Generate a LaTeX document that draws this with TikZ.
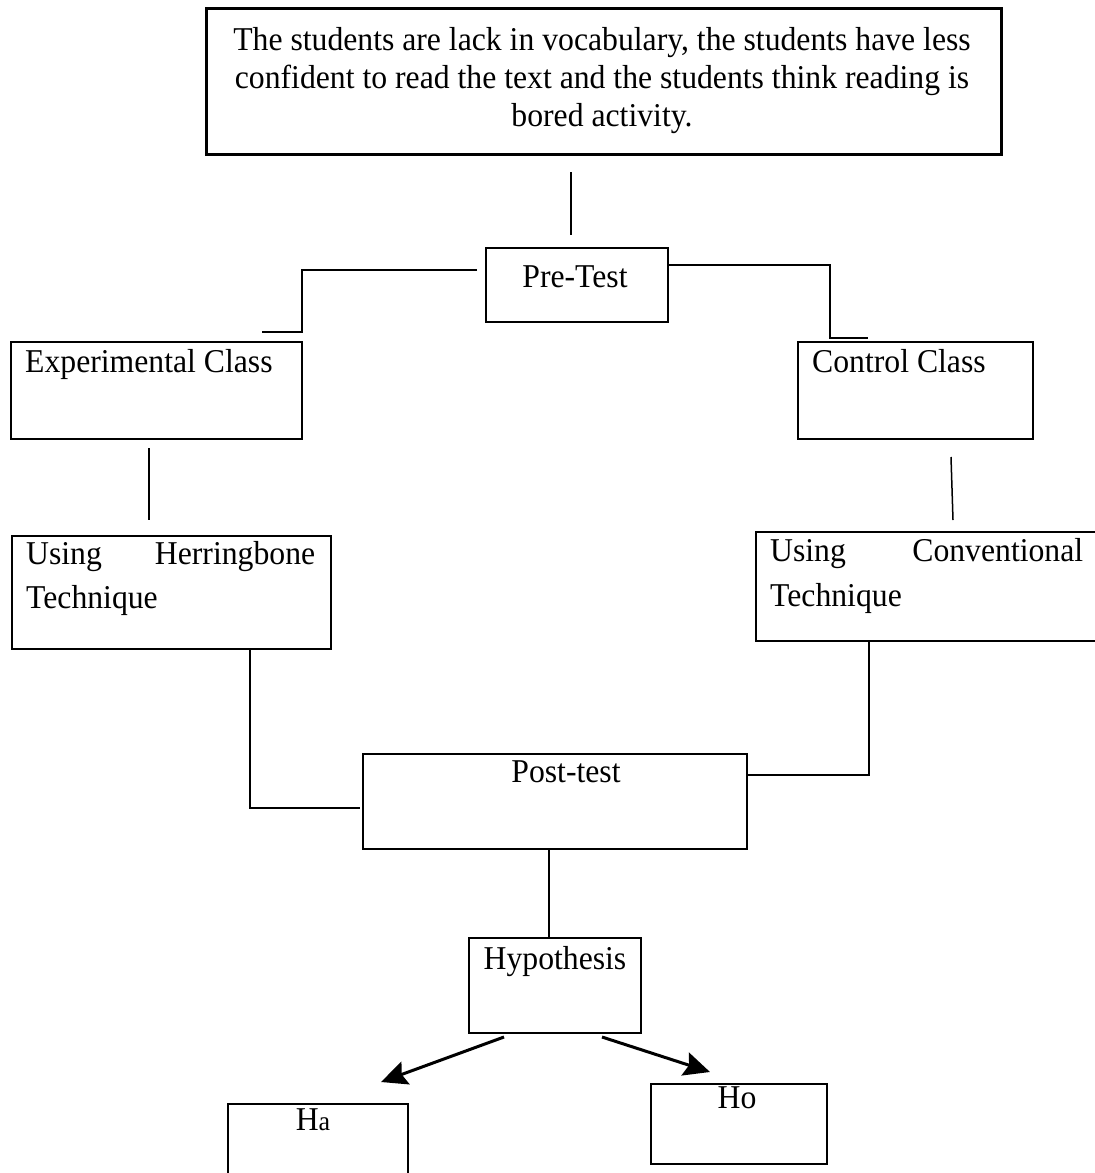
\documentclass[tikz,border=0pt]{standalone}
\usepackage{fontspec}
\setmainfont{Liberation Serif}
\usetikzlibrary{arrows.meta}
\newcommand{\tallt}[1]{\scalebox{1}[1.05]{#1}}
\begin{document}
\begin{tikzpicture}[x=1pt,y=1pt,
  box/.style={draw, line width=2.2pt, inner sep=0pt, anchor=north west},
  txt/.style={inner sep=0pt, font=\fontsize{31.7}{37.5}\selectfont},
  conn/.style={line width=1.5pt},
  arr/.style={line width=3pt, -{Stealth[length=26pt,width=24pt,inset=4pt]}}]
\clip (0,0) rectangle (1095,-1173);
\fill[white] (0,0) rectangle (1095,-1173);
% boxes
\node[box, line width=3pt, minimum width=795pt, minimum height=146pt] (prob) at (205,-7) {};
\node[box, minimum width=182pt, minimum height=74pt] (pre) at (485,-247) {};
\node[box, minimum width=291pt, minimum height=97pt] (exp) at (10,-341) {};
\node[box, minimum width=235pt, minimum height=97pt] (ctl) at (797,-341) {};
\node[box, minimum width=319pt, minimum height=113pt] (her) at (11,-535) {};
\node[box, minimum width=360pt, minimum height=109pt] (con) at (755,-531) {};
\node[box, minimum width=384pt, minimum height=95pt] (post) at (362,-753) {};
\node[box, minimum width=172pt, minimum height=95pt] (hyp) at (468,-937) {};
\node[box, minimum width=180pt, minimum height=90pt] (ha) at (227,-1103) {};
\node[box, minimum width=176pt, minimum height=80pt] (ho) at (650,-1083) {};
% texts
\node[txt, anchor=base] (t1) at (602,-50) {\tallt{The students are lack in vocabulary, the students have less}};
\node[txt, anchor=base] (t2) at (602,-88) {\tallt{confident to read the text and the students think reading is}};
\node[txt, anchor=base] (t3) at (602,-126) {\tallt{bored activity.}};
\node[txt, anchor=base] (pret) at (575,-287) {\tallt{Pre-Test}};
\node[txt, anchor=base west] (expt) at (25,-372) {\tallt{Experimental Class}};
\node[txt, anchor=base west] (ctlt) at (812,-372) {\tallt{Control Class}};
\node[txt, anchor=base west] (her1) at (26,-564) {\tallt{\hbox to 289pt{Using\hfill Herringbone}}};
\node[txt, anchor=base west] (her2) at (26,-608) {\tallt{Technique}};
\node[txt, anchor=base west] (con1) at (770,-561) {\tallt{\hbox to 313pt{Using\hfill Conventional}}};
\node[txt, anchor=base west] (con2) at (770,-606) {\tallt{Technique}};
\node[txt, anchor=base] (postt) at (566,-782) {\tallt{Post-test}};
\node[txt, anchor=base] (hypt) at (555,-969) {\tallt{Hypothesis}};
\node[txt, anchor=base] (hat) at (313,-1130) {\tallt{H{\fontsize{26}{30}\selectfont a}}};
\node[txt, anchor=base] (hot) at (737,-1108) {\tallt{Ho}};
% connector end points
\coordinate (a1) at (571,-172); \coordinate (a2) at (571,-235);
\coordinate (l1) at (477,-270); \coordinate (l2) at (302,-270);
\coordinate (l3) at (302,-332); \coordinate (l4) at (262,-332);
\coordinate (r1) at (667,-265); \coordinate (r2) at (830,-265);
\coordinate (r3) at (830,-338); \coordinate (r4) at (868,-338);
\coordinate (e1) at (149,-448); \coordinate (e2) at (149,-520);
\coordinate (k1) at (951,-457); \coordinate (k2) at (953,-520);
\coordinate (h1) at (250,-648); \coordinate (h2) at (250,-808); \coordinate (h3) at (360,-808);
\coordinate (q1) at (869,-640); \coordinate (q2) at (869,-775); \coordinate (q3) at (748,-775);
\coordinate (p1) at (549,-850); \coordinate (p2) at (549,-937);
\coordinate (s1) at (504,-1037); \coordinate (s2) at (381,-1082);
\coordinate (u1) at (602,-1037); \coordinate (u2) at (710,-1072);
% connectors
\draw[conn] (a1) -- (a2);
\draw[conn] (l1) -- (l2) -- (l3) -- (l4);
\draw[conn] (r1) -- (r2) -- (r3) -- (r4);
\draw[conn] (e1) -- (e2);
\draw[conn] (k1) -- (k2);
\draw[conn] (h1) -- (h2) -- (h3);
\draw[conn] (q1) -- (q2) -- (q3);
\draw[conn] (p1) -- (p2);
\draw[arr] (s1) -- (s2);
\draw[arr] (u1) -- (u2);
\end{tikzpicture}
\end{document}
